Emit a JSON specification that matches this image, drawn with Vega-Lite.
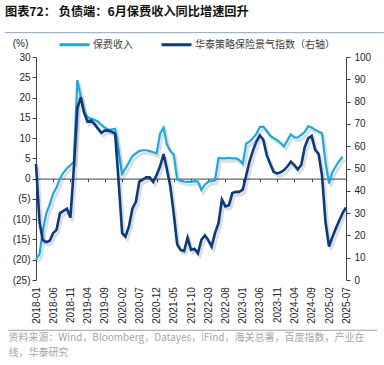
{
  "$schema": "https://vega.github.io/schema/vega-lite/v6.json",
  "width": 310,
  "height": 223,
  "autosize": {"type": "none"},
  "padding": {"left": 36, "top": 57, "right": 38, "bottom": 85},
  "background": "white",
  "title": {
    "text": "图表72：  负债端：6月保费收入同比增速回升",
    "anchor": "start",
    "frame": "group",
    "dx": -31,
    "dy": -10,
    "offset": 0,
    "font": "Noto Sans CJK SC",
    "fontSize": 12.2,
    "fontWeight": "bold",
    "color": "#111111"
  },
  "config": {
    "view": {"stroke": null},
    "font": "Liberation Sans",
    "axis": {
      "labelFont": "Liberation Sans",
      "labelFontSize": 10,
      "labelColor": "#262626",
      "domainColor": "#404040",
      "tickColor": "#404040",
      "grid": false,
      "labelOverlap": false,
      "labelFlush": false
    }
  },
  "data": {
    "values": [
      {"date": "2018-01", "premium": -19.9, "index": 52},
      {"date": "2018-02", "premium": -18.6, "index": 26},
      {"date": "2018-03", "premium": -13.0, "index": 18},
      {"date": "2018-04", "premium": -8.6, "index": 17},
      {"date": "2018-05", "premium": -6.5, "index": 17.5},
      {"date": "2018-06", "premium": -3.7, "index": 21},
      {"date": "2018-07", "premium": -2.2, "index": 22.5},
      {"date": "2018-08", "premium": 0.0, "index": 30},
      {"date": "2018-09", "premium": 1.5, "index": 31},
      {"date": "2018-10", "premium": 2.5, "index": 32},
      {"date": "2018-11", "premium": 3.3, "index": 28},
      {"date": "2018-12", "premium": 4.1, "index": 50},
      {"date": "2019-01", "premium": 24.3, "index": 77},
      {"date": "2019-02", "premium": 20.2, "index": 82},
      {"date": "2019-03", "premium": 16.5, "index": 75},
      {"date": "2019-04", "premium": 15.2, "index": 71},
      {"date": "2019-05", "premium": 14.8, "index": 71.5},
      {"date": "2019-06", "premium": 14.5, "index": 70},
      {"date": "2019-07", "premium": 14.1, "index": 68},
      {"date": "2019-08", "premium": 13.3, "index": 66},
      {"date": "2019-09", "premium": 12.6, "index": 67},
      {"date": "2019-10", "premium": 12.1, "index": 67},
      {"date": "2019-11", "premium": 12.1, "index": 66.5},
      {"date": "2019-12", "premium": 12.3, "index": 65.5},
      {"date": "2020-01", "premium": 6.7, "index": 44},
      {"date": "2020-02", "premium": 1.2, "index": 21},
      {"date": "2020-03", "premium": 2.5, "index": 19.5},
      {"date": "2020-04", "premium": 4.0, "index": 24},
      {"date": "2020-05", "premium": 5.5, "index": 32},
      {"date": "2020-06", "premium": 6.2, "index": 35},
      {"date": "2020-07", "premium": 6.8, "index": 44},
      {"date": "2020-08", "premium": 7.0, "index": 45},
      {"date": "2020-09", "premium": 7.0, "index": 46},
      {"date": "2020-10", "premium": 6.8, "index": 46},
      {"date": "2020-11", "premium": 6.5, "index": 44},
      {"date": "2020-12", "premium": 6.2, "index": 47},
      {"date": "2021-01", "premium": 11.1, "index": 51},
      {"date": "2021-02", "premium": 12.6, "index": 56.5},
      {"date": "2021-03", "premium": 8.5, "index": 50},
      {"date": "2021-04", "premium": 6.8, "index": 42},
      {"date": "2021-05", "premium": 6.0, "index": 30},
      {"date": "2021-06", "premium": -0.2, "index": 16},
      {"date": "2021-07", "premium": -0.5, "index": 13.5},
      {"date": "2021-08", "premium": -0.7, "index": 13},
      {"date": "2021-09", "premium": -0.8, "index": 19},
      {"date": "2021-10", "premium": -0.8, "index": 13.5},
      {"date": "2021-11", "premium": -0.6, "index": 14},
      {"date": "2021-12", "premium": -0.7, "index": 12},
      {"date": "2022-01", "premium": -2.8, "index": 18},
      {"date": "2022-02", "premium": -1.5, "index": 20},
      {"date": "2022-03", "premium": -0.8, "index": 18},
      {"date": "2022-04", "premium": -0.6, "index": 15},
      {"date": "2022-05", "premium": -0.4, "index": 21},
      {"date": "2022-06", "premium": 5.1, "index": 25.5},
      {"date": "2022-07", "premium": 5.0, "index": 36},
      {"date": "2022-08", "premium": 5.0, "index": 33},
      {"date": "2022-09", "premium": 5.1, "index": 33.5},
      {"date": "2022-10", "premium": 5.0, "index": 39},
      {"date": "2022-11", "premium": 5.0, "index": 39.5},
      {"date": "2022-12", "premium": 4.6, "index": 39.5},
      {"date": "2023-01", "premium": 3.7, "index": 40.5},
      {"date": "2023-02", "premium": 8.7, "index": 47},
      {"date": "2023-03", "premium": 9.1, "index": 53},
      {"date": "2023-04", "premium": 10.0, "index": 58},
      {"date": "2023-05", "premium": 11.0, "index": 62},
      {"date": "2023-06", "premium": 12.7, "index": 64.8},
      {"date": "2023-07", "premium": 12.8, "index": 63},
      {"date": "2023-08", "premium": 11.8, "index": 56},
      {"date": "2023-09", "premium": 10.6, "index": 52},
      {"date": "2023-10", "premium": 10.0, "index": 48.5},
      {"date": "2023-11", "premium": 9.5, "index": 47.8},
      {"date": "2023-12", "premium": 8.8, "index": 48.3},
      {"date": "2024-01", "premium": 8.0, "index": 49.3},
      {"date": "2024-02", "premium": 9.5, "index": 51},
      {"date": "2024-03", "premium": 10.9, "index": 53},
      {"date": "2024-04", "premium": 10.2, "index": 51.5},
      {"date": "2024-05", "premium": 10.1, "index": 49.6},
      {"date": "2024-06", "premium": 10.8, "index": 51.6},
      {"date": "2024-07", "premium": 11.5, "index": 59.5},
      {"date": "2024-08", "premium": 12.9, "index": 63.5},
      {"date": "2024-09", "premium": 12.6, "index": 64.6},
      {"date": "2024-10", "premium": 12.1, "index": 58.5},
      {"date": "2024-11", "premium": 11.6, "index": 56.5},
      {"date": "2024-12", "premium": 11.2, "index": 47},
      {"date": "2025-01", "premium": 4.0, "index": 26},
      {"date": "2025-02", "premium": -1.2, "index": 15},
      {"date": "2025-03", "premium": 1.5, "index": 19},
      {"date": "2025-04", "premium": 3.0, "index": 23},
      {"date": "2025-05", "premium": 4.3, "index": 26.5},
      {"date": "2025-06", "premium": 5.4, "index": 30},
      {"date": "2025-07", "premium": null, "index": 32.5}
    ]
  },
  "layer": [
    {
      "layer": [
        {
          "data": {"values": [{}]},
          "mark": {"type": "rule", "color": "#8FA3BD", "strokeWidth": 1},
          "encoding": {
            "x": {"datum": {"year": 2017, "month": 4, "date": 1, "utc": true}, "type": "temporal"},
            "x2": {"datum": {"year": 2026, "month": 6, "date": 1, "utc": true}},
            "y": {"datum": 36, "type": "quantitative"}
          }
        },
        {
          "data": {"values": [{}]},
          "mark": {"type": "rule", "color": "#8FA3BD", "strokeWidth": 1},
          "encoding": {
            "x": {"datum": {"year": 2017, "month": 5, "date": 1, "utc": true}, "type": "temporal"},
            "x2": {"datum": {"year": 2026, "month": 4, "date": 1, "utc": true}},
            "y": {"datum": -37.4, "type": "quantitative"}
          }
        },
        {
          "mark": {"type": "line", "stroke": "#000000", "strokeWidth": 3, "opacity": 0.13, "xOffset": 2, "yOffset": 3},
          "encoding": {
            "x": {"field": "date", "type": "temporal"},
            "y": {"field": "premium", "type": "quantitative"}
          }
        },
        {
          "mark": {"type": "line", "strokeWidth": 2.2},
          "encoding": {
            "x": {
              "field": "date",
              "type": "temporal",
              "scale": {
                "type": "utc",
                "domain": [
                  {"year": 2018, "month": 1, "date": 1, "utc": true},
                  {"year": 2025, "month": 7, "date": 1, "utc": true}
                ]
              },
              "axis": {
                "values": [
                  {"year": 2018, "month": 1, "date": 1, "utc": true},
                  {"year": 2018, "month": 6, "date": 1, "utc": true},
                  {"year": 2018, "month": 11, "date": 1, "utc": true},
                  {"year": 2019, "month": 4, "date": 1, "utc": true},
                  {"year": 2019, "month": 9, "date": 1, "utc": true},
                  {"year": 2020, "month": 2, "date": 1, "utc": true},
                  {"year": 2020, "month": 7, "date": 1, "utc": true},
                  {"year": 2020, "month": 12, "date": 1, "utc": true},
                  {"year": 2021, "month": 5, "date": 1, "utc": true},
                  {"year": 2021, "month": 10, "date": 1, "utc": true},
                  {"year": 2022, "month": 3, "date": 1, "utc": true},
                  {"year": 2022, "month": 8, "date": 1, "utc": true},
                  {"year": 2023, "month": 1, "date": 1, "utc": true},
                  {"year": 2023, "month": 6, "date": 1, "utc": true},
                  {"year": 2023, "month": 11, "date": 1, "utc": true},
                  {"year": 2024, "month": 4, "date": 1, "utc": true},
                  {"year": 2024, "month": 9, "date": 1, "utc": true},
                  {"year": 2025, "month": 2, "date": 1, "utc": true},
                  {"year": 2025, "month": 7, "date": 1, "utc": true}
                ],
                "tickCount": 100,
                "labelExpr": "utcFormat(datum.value, '%Y-%m')",
                "labelAngle": 270,
                "labelOverlap": false,
                "labelFlush": false,
                "offset": -101.4,
                "tickSize": 3,
                "labelPadding": 105,
                "title": ["资料来源：Wind，Bloomberg，Datayes，iFind，海关总署，百度指数，产业在", "线，华泰研究"],
                "titleX": -28,
                "titleY": 154,
                "titleAlign": "left",
                "titleAngle": 0,
                "titleBaseline": "top",
                "titleFont": "Noto Sans CJK SC",
                "titleFontSize": 10,
                "titleFontWeight": "normal",
                "titleColor": "#A6A6A6",
                "titleLineHeight": 14.5
              }
            },
            "y": {
              "field": "premium",
              "type": "quantitative",
              "scale": {"domain": [-25, 30], "nice": false, "zero": false},
              "axis": {
                "values": [-25, -20, -15, -10, -5, 0, 5, 10, 15, 20, 25, 30],
                "tickCount": 100,
                "labelExpr": "datum.value < 0 ? '(' + (-datum.value) + ')' : '' + datum.value",
                "labelOverlap": false,
                "tickSize": 4,
                "labelPadding": 2,
                "title": "(%)",
                "titleAngle": 0,
                "titleX": -16,
                "titleY": -14,
                "titleAlign": "center",
                "titleBaseline": "middle",
                "titleFont": "Liberation Sans",
                "titleFontSize": 10,
                "titleFontWeight": "normal",
                "titleColor": "#262626"
              }
            },
            "color": {
              "datum": "保费收入",
              "scale": {
                "domain": ["保费收入", "华泰策略保险景气指数（右轴）"],
                "range": ["#1AA9E3", "#0B3A7E"]
              },
              "legend": {
                "orient": "none",
                "legendX": 22,
                "legendY": -29,
                "direction": "horizontal",
                "title": null,
                "symbolType": "stroke",
                "symbolSize": 900,
                "symbolStrokeWidth": 3,
                "labelFont": "Noto Sans CJK SC",
                "labelFontSize": 10,
                "labelColor": "#404040",
                "labelOffset": 2,
                "columnPadding": 22,
                "padding": 0
              }
            }
          }
        }
      ]
    },
    {
      "layer": [
        {
          "mark": {"type": "line", "stroke": "#000000", "strokeWidth": 3.2, "opacity": 0.13, "xOffset": 2, "yOffset": 3},
          "encoding": {
            "x": {"field": "date", "type": "temporal"},
            "y": {"field": "index", "type": "quantitative", "scale": {"domain": [0, 100], "nice": false}}
          }
        },
        {
          "mark": {"type": "line", "strokeWidth": 2.6},
          "encoding": {
            "x": {"field": "date", "type": "temporal"},
            "y": {
              "field": "index",
              "type": "quantitative",
              "scale": {"domain": [0, 100], "nice": false},
              "axis": {
                "orient": "right",
                "values": [0, 10, 20, 30, 40, 50, 60, 70, 80, 90, 100],
                "tickCount": 100,
                "labelOverlap": false,
                "tickSize": 4,
                "labelPadding": 4,
                "title": null
              }
            },
            "color": {"datum": "华泰策略保险景气指数（右轴）"}
          }
        }
      ]
    }
  ],
  "resolve": {"scale": {"y": "independent"}}
}
